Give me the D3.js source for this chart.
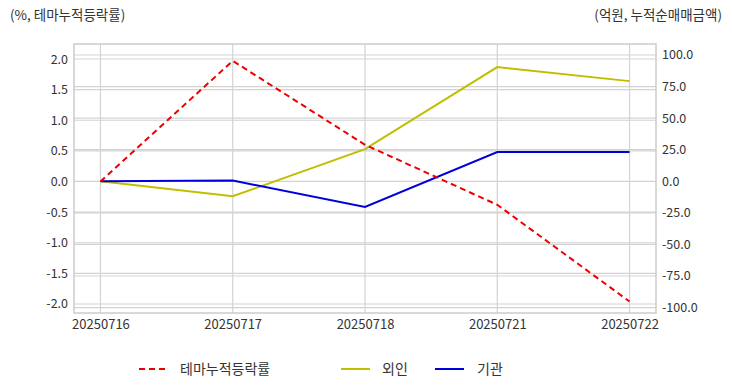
<!DOCTYPE html>
<html><head><meta charset="utf-8">
<script src="https://cdn.jsdelivr.net/npm/d3@7/dist/d3.min.js"></script>
<style>
body{margin:0;background:#fff;}
text{font-family:"Noto Sans CJK KR","Noto Sans",sans-serif;}
</style></head>
<body><svg id="c" width="732" height="392"></svg>
<script>
const dates = ["20250716","20250717","20250718","20250721","20250722"];
const themeRate = [0.0, 1.97, 0.60, -0.38, -1.96];
const foreign = [0.0, -11.9, 25.5, 90.4, 79.3];
const institution = [0.0, 0.6, -20.4, 23.2, 23.2];
const leftTicks = [-2.0,-1.5,-1.0,-0.5,0.0,0.5,1.0,1.5,2.0];
const rightTicks = [-100,-75,-50,-25,0,25,50,75,100];

const svg = d3.select("#c");
const L=74, R=656, T=44, B=313;
const x = d3.scalePoint().domain(dates).range([L,R]).padding(0.2);
const yL = d3.scaleLinear().domain([-2.147,2.245]).range([B,T]);
const yR = d3.scaleLinear().domain([-104.3,108.7]).range([B,T]);
const grid="#d3d3d3";

// gridlines
svg.append("g").selectAll("line").data(leftTicks).join("line")
  .attr("x1",L).attr("x2",R).attr("y1",d=>yL(d)).attr("y2",d=>yL(d))
  .attr("stroke",grid).attr("stroke-width",1.2);
svg.append("g").selectAll("line").data(rightTicks).join("line")
  .attr("x1",L).attr("x2",R).attr("y1",d=>yR(d)).attr("y2",d=>yR(d))
  .attr("stroke",grid).attr("stroke-width",1.2);
svg.append("g").selectAll("line").data(dates).join("line")
  .attr("x1",d=>x(d)).attr("x2",d=>x(d)).attr("y1",T).attr("y2",B)
  .attr("stroke",grid).attr("stroke-width",1.2);
svg.append("rect").attr("x",L).attr("y",T).attr("width",R-L).attr("height",B-T)
  .attr("fill","none").attr("stroke","#cccccc").attr("stroke-width",1.5);

// axes
const axL = svg.append("g").attr("transform",`translate(${L},0)`)
  .call(d3.axisLeft(yL).tickValues(leftTicks).tickFormat(d3.format(".1f")).tickSize(0).tickPadding(6));
const axR = svg.append("g").attr("transform",`translate(${R},0)`)
  .call(d3.axisRight(yR).tickValues(rightTicks).tickFormat(d3.format(".1f")).tickSize(0).tickPadding(6));
const axX = svg.append("g").attr("transform",`translate(0,${B})`)
  .call(d3.axisBottom(x).tickSize(0).tickPadding(7));
[axL,axR,axX].forEach(a=>{a.select(".domain").remove();
  a.selectAll("text").attr("fill","#333").style("font-size","12.5px");});
axX.selectAll("text").style("font-size","13px");
axL.selectAll("text").text(d=>d3.format(".1f")(d).replace("−","-"));
axR.selectAll("text").text(d=>d3.format(".1f")(d).replace("−","-"));

// axis titles
svg.append("text").attr("x",10).attr("y",20).attr("fill","#333").style("font-size","13.5px").text("(%, 테마누적등락률)");
svg.append("text").attr("x",722).attr("y",20).attr("text-anchor","end").attr("fill","#333").style("font-size","13.5px").text("(억원, 누적순매매금액)");

// lines
const lineL = d3.line().x((d,i)=>x(dates[i])).y(d=>yL(d));
const lineR = d3.line().x((d,i)=>x(dates[i])).y(d=>yR(d));
svg.append("path").datum(foreign).attr("d",lineR).attr("fill","none").attr("stroke","#bfbf00").attr("stroke-width",2);
svg.append("path").datum(institution).attr("d",lineR).attr("fill","none").attr("stroke","#0000dd").attr("stroke-width",2);
svg.append("path").datum(themeRate).attr("d",lineL).attr("fill","none").attr("stroke","#ee0000").attr("stroke-width",2).attr("stroke-dasharray","6,4");

// legend
const leg = [
  {name:"테마누적등락률", color:"#ee0000", dash:"6,4", x:139, tx:180},
  {name:"외인", color:"#bfbf00", dash:null, x:341, tx:382},
  {name:"기관", color:"#0000dd", dash:null, x:435, tx:477}
];
const lg = svg.append("g");
leg.forEach(l=>{
  lg.append("line").attr("x1",l.x).attr("x2",l.x+29).attr("y1",369).attr("y2",369)
    .attr("stroke",l.color).attr("stroke-width",2).attr("stroke-dasharray",l.dash);
  lg.append("text").attr("x",l.tx).attr("y",374).attr("fill","#333").style("font-size","14px").text(l.name);
});
</script></body></html>
